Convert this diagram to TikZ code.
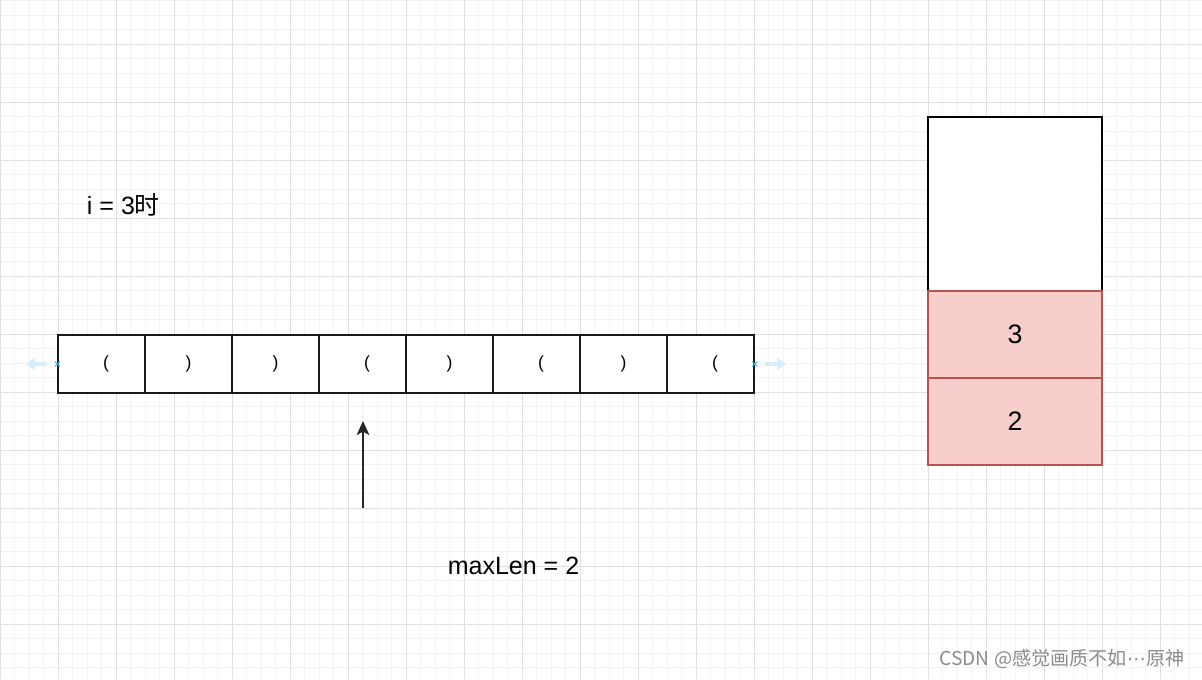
\documentclass[tikz,border=0pt]{standalone}
\usepackage{fontspec}
\setmainfont{Liberation Sans}
\newfontfamily\cjk{Noto Sans CJK SC}
\newfontfamily\symfont{DejaVu Sans}
\usepackage{tikz}
\usetikzlibrary{arrows.meta,positioning}

\definecolor{gridminor}{HTML}{F3F3F3}
\definecolor{gridmajor}{HTML}{E0E0E0}
\definecolor{stackfill}{HTML}{F8CECC}
\definecolor{stackline}{HTML}{B85450}
\definecolor{hintblue}{HTML}{D8EDFA}
\definecolor{markblue}{HTML}{29B6F2}

\newcommand{\opn}{\hspace{6.4pt}(}
\newcommand{\cls}{)\hspace{7.8pt}}

\begin{document}
\begin{tikzpicture}[x=0.025cm,y=-0.025cm]
          %% background and grid
          \tikzstyle{minorline}=[gridminor,line width=0.6pt]
          \tikzstyle{majorline}=[gridmajor,line width=0.6pt]
          \fill[white] (0,0) rectangle (1202,679);
          \useasboundingbox (0,0) rectangle (1202,679);
          \foreach \k in {0,...,82} \draw[minorline] (\k*14.5,0) -- (\k*14.5,679);
          \foreach \k in {0,...,46} \draw[minorline] (0,0.5+\k*14.5) -- (1202,0.5+\k*14.5);
          \foreach \k in {0,...,20} \draw[majorline] (\k*58,0) -- (\k*58,679);
          \foreach \k in {0,...,10} \draw[majorline] (0,44+\k*58) -- (1202,44+\k*58);

          \tikzstyle{cell}=[draw=black!90,fill=white,line width=1pt,minimum width=2.175cm,minimum height=1.45cm,inner sep=0pt,font=\fontsize{12.5}{13}\selectfont]
          \tikzstyle{slot}=[draw=black,fill=white,line width=0.9pt,minimum width=4.35cm,inner sep=0pt,font=\fontsize{19}{20}\selectfont]
          \tikzstyle{pushed}=[slot,draw=stackline,fill=stackfill,minimum height=2.175cm]
          \tikzstyle{hint}=[hintblue,line width=3.5pt,-{Triangle[length=6pt,width=9pt]}]
          \tikzstyle{ptr}=[black!85,line width=1pt,-{Stealth[length=10pt,width=9pt,inset=2.5pt]}]

          % the string
          \node[cell] (c1) at (101.5,364) {\opn};
          \node[cell] (c2) at (188.5,364) {\cls};
          \node[cell] (c3) at (275.5,364) {\cls};
          \node[cell] (c4) at (362.5,364) {\opn};
          \node[cell] (c5) at (449.5,364) {\cls};
          \node[cell] (c6) at (536.5,364) {\opn};
          \node[cell] (c7) at (623.5,364) {\cls};
          \node[cell] (c8) at (710.5,364) {\opn};

          % hover marks at both ends
          \draw[hint] ([xshift=-0.25cm]c1.west) -- ([xshift=-0.78cm]c1.west);
          \draw[hint] ([xshift=0.25cm]c8.east) -- ([xshift=0.78cm]c8.east);
          \draw[markblue,line width=0.7pt] (c1.west) +(-2.5,-2.5) -- +(2.5,2.5) +(-2.5,2.5) -- +(2.5,-2.5);
          \draw[markblue,line width=0.7pt] (c8.east) +(-2.5,-2.5) -- +(2.5,2.5) +(-2.5,2.5) -- +(2.5,-2.5);

          % the stack
          \node[slot,minimum height=4.35cm] (s0) at (1015,204) {};
          \node[pushed] (s1) at (1015,334.5) {3};
          \node[pushed] (s2) at (1015,421.5) {2};

          % pointer
          \coordinate (ptrfoot) at (363,508);
          \coordinate (ptrtip) at (363,421);
          \draw[ptr] (ptrfoot) -- (ptrtip);

          % texts
          \node[font=\fontsize{17.8}{19}\selectfont] (step) at (123.5,205) {i = 3{\cjk 时}};
          \node[font=\fontsize{17.8}{19}\selectfont] (maxlen) at (513.5,566) {maxLen = 2};
          \node[font=\cjk\fontsize{13.6}{15}\selectfont,text=black!45] (mark) at (1062,659) {CSDN @感觉画质不如{\symfont ⋯}原神};
\end{tikzpicture}
\end{document}
